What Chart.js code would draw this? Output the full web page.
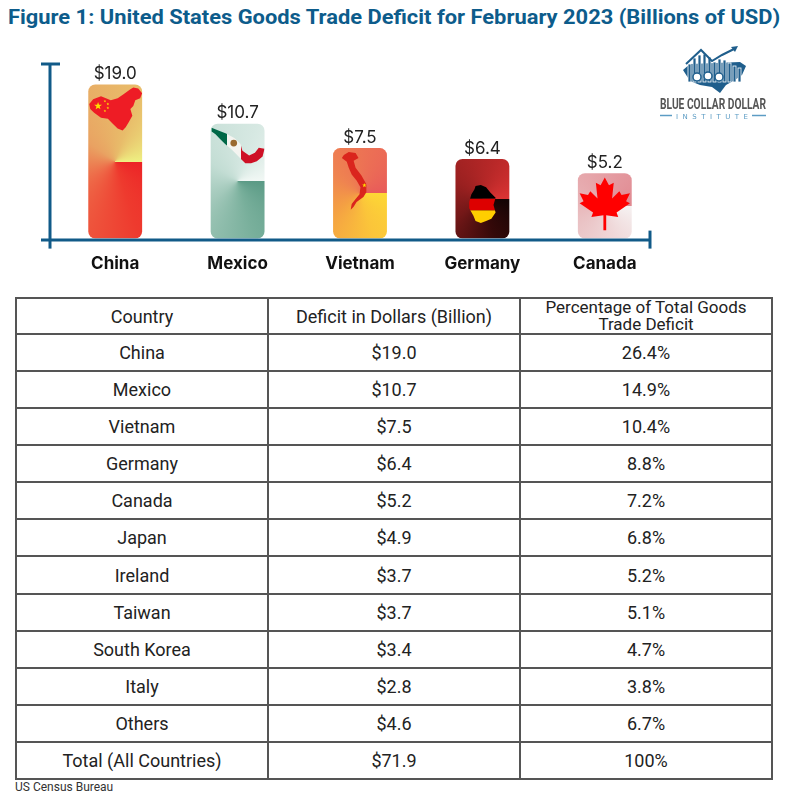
<!DOCTYPE html>
<html>
<head>
<meta charset="utf-8">
<script src="https://cdn.jsdelivr.net/npm/chart.js@4.4.1/dist/chart.umd.min.js"></script>
<style>
  html, body { margin: 0; padding: 0; background: #fff; }
  body { width: 789px; height: 805px; position: relative; overflow: hidden; font-family: Roboto, sans-serif; }
  #title { position: absolute; left: 8px; top: 5px; font: bold 21px Roboto, sans-serif; color: #0d5c8b; white-space: nowrap; transform-origin: 0 0; }
  #chartBox { position: absolute; left: 0; top: 0; width: 789px; height: 287px; }
  #logo { position: absolute; left: 650px; top: 42px; }
  #tbl { position: absolute; left: 15px; top: 297px; width: 758px; height: 483px; border-collapse: collapse; table-layout: fixed; }
  #tbl td, #tbl th { border: 2px solid #555; text-align: center; font-size: 18px; font-weight: normal; color: #222; padding: 0; }
  #tbl th.two { font-size: 17px; line-height: 17px; }
  #source { position: absolute; left: 15px; top: 780px; font-size: 12px; color: #333; }
</style>
</head>
<body>
<div id="title">Figure 1: United States Goods Trade Deficit for February 2023 (Billions of USD)</div>
<div id="chartBox"><canvas id="chart"></canvas></div>

<svg id="logo" width="130" height="85" viewBox="650 42 130 85">
  <path d="M683 70 L690 64 L740 62 L746 66 L742 75 L735 80 L726 85 L720 93 L712 87 L700 85 L690 81 Z" fill="#1f5e8c"/>
  <g fill="#1f5e8c" stroke="#fff" stroke-width="0.8">
    <rect x="688" y="64" width="3" height="18"/>
    <rect x="693" y="58" width="3" height="24"/>
    <rect x="698" y="55" width="3" height="27"/>
    <rect x="703" y="54" width="3" height="28"/>
    <rect x="708" y="57" width="3" height="25"/>
    <rect x="713" y="62" width="3" height="20"/>
    <rect x="718" y="59" width="3" height="23"/>
    <rect x="723" y="60" width="3" height="22"/>
    <rect x="728" y="63" width="3" height="19"/>
    <rect x="733" y="66" width="3" height="16"/>
    <rect x="738" y="68" width="3" height="14"/>
  </g>
  <polyline points="686,64 701,50 712,61 722,55 734,49" fill="none" stroke="#1f5e8c" stroke-width="2"/>
  <polygon points="738,46 731,47 735,52" fill="#1f5e8c"/>
  <g fill="#fff" stroke="#1f5e8c" stroke-width="1.5">
    <circle cx="697" cy="77" r="4"/>
    <circle cx="708" cy="76" r="4"/>
    <circle cx="719" cy="77" r="4"/>
  </g>
  <text x="660" y="109" textLength="106" lengthAdjust="spacingAndGlyphs" font-family="Roboto, sans-serif" font-weight="bold" font-size="14.5" fill="#555">BLUE COLLAR DOLLAR</text>
  <line x1="660" y1="115.5" x2="672" y2="115.5" stroke="#5c9cc4" stroke-width="1.5"/>
  <text x="676" y="118.5" textLength="72" lengthAdjust="spacing" font-family="DejaVu Sans, sans-serif" font-size="7" fill="#5c9cc4">INSTITUTE</text>
  <line x1="752" y1="115.5" x2="766" y2="115.5" stroke="#5c9cc4" stroke-width="1.5"/>
</svg>

<table id="tbl">
  <thead>
    <tr>
      <th>Country</th>
      <th>Deficit in Dollars (Billion)</th>
      <th class="two">Percentage of Total Goods<br>Trade Deficit</th>
    </tr>
  </thead>
  <tbody id="tbody"></tbody>
</table>
<div id="source">US Census Bureau</div>

<script>
// ---- data ----
const tableCountries = ['China', 'Mexico', 'Vietnam', 'Germany', 'Canada', 'Japan', 'Ireland', 'Taiwan', 'South Korea', 'Italy', 'Others', 'Total (All Countries)'];
const tableDeficits = [19.0, 10.7, 7.5, 6.4, 5.2, 4.9, 3.7, 3.7, 3.4, 2.8, 4.6, 71.9];
const tableShares = [26.4, 14.9, 10.4, 8.8, 7.2, 6.8, 5.2, 5.1, 4.7, 3.8, 6.7, 100];

const chartCountries = ['China', 'Mexico', 'Vietnam', 'Germany', 'Canada'];
const chartDeficits = [19.0, 10.7, 7.5, 6.4, 5.2];

// title squeezed to the width of the original condensed face
const title = document.getElementById('title');
title.style.transform = 'scaleX(' + (772 / title.offsetWidth) + ')';

// ---- table ----
const tbody = document.getElementById('tbody');
tableCountries.forEach((name, i) => {
  const tr = document.createElement('tr');
  const share = tableShares[i] === 100 ? '100%' : tableShares[i].toFixed(1) + '%';
  [name, '$' + tableDeficits[i].toFixed(1), share].forEach(txt => {
    const td = document.createElement('td');
    td.textContent = txt;
    tr.appendChild(td);
  });
  tbody.appendChild(tr);
});

// ---- bar styling (flag colours, conic fill around bar middle) ----
const barStops = {
  China:   ['#ec2226', '#ee3a2e', '#ee6a48', '#e9a262', '#e8bc6a', '#eef082'],
  Mexico:  ['#5a9a85', '#78af9b', '#a3c9bb', '#c3ddd4', '#d6e8e2', '#f2f8f5'],
  Vietnam: ['#fdd835', '#fbc53a', '#f4a043', '#ef8450', '#ec6e55', '#e85a5a'],
  Germany: ['#120404', '#340909', '#741818', '#9a2020', '#b82828', '#dc3434'],
  Canada:  ['#f6f2f2', '#efd8d9', '#eac3c5', '#e7acb0', '#e49aa0', '#e08890']
};

function fillFor(c) {
  const chart = c.chart;
  const xs = chart.scales.x, ys = chart.scales.y;
  if (!xs || !ys || !chart.chartArea) return '#ccc';
  const x = xs.getPixelForValue(c.dataIndex);
  const top = ys.getPixelForValue(c.raw);
  const base = ys.getPixelForValue(ys.min);
  const g = chart.ctx.createConicGradient(0, x, (top + base) / 2);
  const stops = barStops[chartCountries[c.dataIndex]];
  stops.forEach((col, i) => g.addColorStop(i / (stops.length - 1), col));
  return g;
}

// map shapes, drawn in reference units of a bar box and scaled to the real bar
const decor = {
  China: {
    box: [87, 83, 55, 157], anchor: 'top',
    draw(ctx, P) {
      poly(ctx, P, [[88,103],[92,98],[100,95],[110,99],[117,97],[123,93],[130,88],[133,86],[138,87],[142,92],[140,97],[135,99],[133,105],[130,108],[132,115],[128,122],[125,127],[122,130],[117,128],[112,123],[107,118],[100,117],[93,112],[89,108]], '#ee1c25');
      star(ctx, P, 97, 105, 4.2, '#ffde00');
      [[104,100],[107,103],[107,107],[104,110]].forEach(p => star(ctx, P, p[0], p[1], 1.5, '#ffde00'));
    }
  },
  Mexico: {
    box: [205, 103, 56, 137], anchor: 'top',
    draw(ctx, P) {
      const pts = [[206,107],[213,110],[221,113],[230,118],[236,124],[238,131],[245,136],[251,133],[255,128],[261,129],[259,137],[253,142],[247,144],[241,144],[236,139],[231,134],[226,129],[220,124],[215,119],[210,114],[206,111]];
      const a = P(222, 0)[0], b = P(236, 0)[0];
      const g = ctx.createLinearGradient(a - 1, 0, b + 1, 0);
      g.addColorStop(0, '#006847'); g.addColorStop(0.04, '#006847');
      g.addColorStop(0.06, '#f4f4f0'); g.addColorStop(0.94, '#f4f4f0');
      g.addColorStop(0.96, '#ce1126'); g.addColorStop(1, '#ce1126');
      poly(ctx, P, pts, g);
      const c = P(229, 123);
      ctx.beginPath(); ctx.arc(c[0], c[1], 3.5 * P.s, 0, Math.PI * 2);
      ctx.fillStyle = '#9a6a30'; ctx.fill();
    }
  },
  Vietnam: {
    box: [329, 130, 55, 110], anchor: 'top',
    draw(ctx, P) {
      poly(ctx, P, [[340,137],[345,134],[352,135],[355,140],[350,143],[352,150],[358,158],[363,167],[363,175],[360,180],[353,185],[350,190],[347,193],[348,187],[352,182],[356,177],[357,170],[353,163],[348,157],[345,150],[343,144],[338,140]], '#da251d');
      star(ctx, P, 361, 168, 2.4, '#ffde00');
    }
  },
  Germany: {
    box: [464, 158, 51, 82], anchor: 'mid',
    draw(ctx, P) {
      const pts = [[483,187],[488,186],[493,188],[497,193],[502,198],[500,205],[502,212],[498,218],[493,220],[488,222],[483,220],[481,215],[477,208],[477,202],[479,195],[482,190]];
      ctx.save();
      path(ctx, P, pts); ctx.clip();
      const l = P(470, 0)[0], r = P(510, 0)[0];
      [[180, 199, '#000000'], [199, 210, '#dd0000'], [210, 230, '#ffce00']].forEach(s => {
        const y1 = P(0, s[0])[1], y2 = P(0, s[1])[1];
        ctx.fillStyle = s[2]; ctx.fillRect(l, y1, r - l, y2 - y1);
      });
      ctx.restore();
    }
  },
  Canada: {
    box: [579, 179, 52, 61], anchor: 'mid',
    draw(ctx, P) {
      const leaf = [[0,-1],[0.15,-0.7],[0.32,-0.8],[0.26,-0.2],[0.52,-0.48],[0.6,-0.33],[0.9,-0.4],[0.76,-0.1],[0.9,-0.02],[0.42,0.33],[0.48,0.5],[0.05,0.43],[0.05,1],[-0.05,1],[-0.05,0.43],[-0.48,0.5],[-0.42,0.33],[-0.9,-0.02],[-0.76,-0.1],[-0.9,-0.4],[-0.6,-0.33],[-0.52,-0.48],[-0.26,-0.2],[-0.32,-0.8],[-0.15,-0.7]];
      poly(ctx, P, leaf.map(p => [605 + p[0] * 27, 207.5 + p[1] * 25.5]), '#ff0000');
    }
  }
};

function path(ctx, P, pts) {
  ctx.beginPath();
  pts.forEach((p, i) => { const q = P(p[0], p[1]); i ? ctx.lineTo(q[0], q[1]) : ctx.moveTo(q[0], q[1]); });
  ctx.closePath();
}
function poly(ctx, P, pts, fill) { path(ctx, P, pts); ctx.fillStyle = fill; ctx.fill(); }
function star(ctx, P, cx, cy, r, fill) {
  const pts = [];
  for (let k = 0; k < 10; k++) {
    const a = -Math.PI / 2 + k * Math.PI / 5, rr = k % 2 ? r * 0.4 : r;
    pts.push([cx + rr * Math.cos(a), cy + rr * Math.sin(a)]);
  }
  poly(ctx, P, pts, fill);
}

const barDecor = {
  id: 'barDecor',
  afterDatasetsDraw(chart) {
    const ctx = chart.ctx;
    chart.getDatasetMeta(0).data.forEach((el, i) => {
      const { x, y, base, width } = el.getProps(['x', 'y', 'base', 'width'], true);
      const left = x - width / 2;
      const d = decor[chartCountries[i]];
      const [rl, rt, rw, rh] = d.box;
      const s = width / rw;
      const refY = d.anchor === 'mid' ? rt + rh / 2 : rt;
      const realY = d.anchor === 'mid' ? (y + base) / 2 : y;
      const P = (px, py) => [left + (px - rl) * s, realY + (py - refY) * s];
      P.s = s;
      ctx.save();
      ctx.beginPath();
      ctx.roundRect(left, y, width, base - y, 7);
      ctx.clip();
      d.draw(ctx, P);
      ctx.restore();

      ctx.save();
      ctx.font = '17px Inter, sans-serif';
      ctx.fillStyle = '#222';
      ctx.textAlign = 'center';
      ctx.textBaseline = 'bottom';
      ctx.fillText('$' + chartDeficits[i].toFixed(1), x, y - 2);
      ctx.restore();
    });
  }
};

const axisLines = {
  id: 'axisLines',
  afterDatasetsDraw(chart) {
    const { left, right, top, bottom } = chart.chartArea;
    const ctx = chart.ctx;
    const ax = left - 4, ay = bottom + 1.5, rx = right - 16;
    ctx.save();
    ctx.strokeStyle = '#115a88';
    ctx.lineWidth = 3;
    const seg = (x1, y1, x2, y2) => { ctx.beginPath(); ctx.moveTo(x1, y1); ctx.lineTo(x2, y2); ctx.stroke(); };
    seg(ax, top, ax, bottom + 10);
    seg(ax - 9, top + 1, ax + 10, top + 1);
    seg(ax - 9, ay, rx, ay);
    seg(rx, bottom - 8, rx, bottom + 10);
    ctx.restore();
  }
};

new Chart(document.getElementById('chart'), {
  type: 'bar',
  data: {
    labels: chartCountries,
    datasets: [{
      data: chartDeficits,
      backgroundColor: fillFor,
      borderWidth: 0,
      borderRadius: 7,
      borderSkipped: false,
      categoryPercentage: 1,
      barPercentage: 0.44
    }]
  },
  options: {
    responsive: true,
    maintainAspectRatio: false,
    animation: false,
    events: [],
    layout: { padding: { top: 63, left: 54, right: 123, bottom: 6 } },
    plugins: {
      legend: { display: false },
      tooltip: { enabled: false }
    },
    scales: {
      x: {
        grid: { display: false },
        border: { display: false },
        ticks: { color: '#111', padding: 7, font: { family: 'Inter', size: 17, weight: 'bold' } }
      },
      y: {
        type: 'logarithmic',
        display: false,
        min: 2,
        max: 26
      }
    }
  },
  plugins: [barDecor, axisLines]
});
</script>
</body>
</html>
